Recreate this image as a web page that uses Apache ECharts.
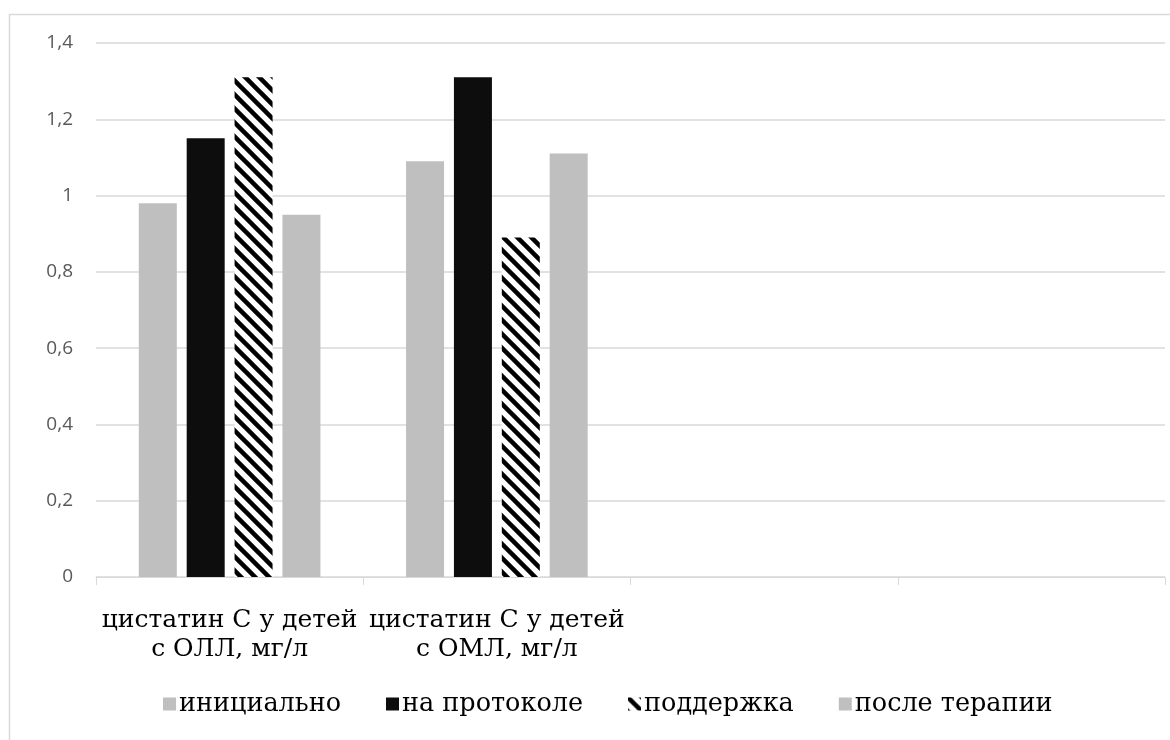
<!DOCTYPE html>
<html>
<head>
<meta charset="utf-8">
<script src="https://cdn.jsdelivr.net/npm/echarts@6/dist/echarts.min.js"></script>
<style>
  html, body { margin: 0; padding: 0; background: #ffffff; }
  #chart { width: 1170px; height: 740px; }
</style>
</head>
<body>
<div id="chart"></div>
<script>
// Categories (two empty slots keep the plot wide like the original layout)
const categories = ['цистатин С у детей\nс ОЛЛ, мг/л', 'цистатин С у детей\nс ОМЛ, мг/л', '', ''];

// Series names and values, mg/l
const seriesNames = ['инициально', 'на протоколе', 'поддержка', 'после терапии'];
const initialValues = [0.98, 1.09, null, null];
const protocolValues = [1.15, 1.31, null, null];
const supportValues = [1.31, 0.89, null, null];
const afterValues = [0.95, 1.11, null, null];

// Y axis ticks
const yMin = 0;
const yMax = 1.4;
const yStep = 0.2;

// Diagonal "\" hatch pattern for the maintenance series
function makeHatch() {
  const s = 14;
  const c = document.createElement('canvas');
  c.width = s; c.height = s;
  const ctx = c.getContext('2d');
  ctx.fillStyle = '#ffffff';
  ctx.fillRect(0, 0, s, s);
  ctx.strokeStyle = '#000000';
  ctx.lineWidth = 4.5;
  [-s, 0, s].forEach(function (o) {
    ctx.beginPath();
    ctx.moveTo(o - 2, -2);
    ctx.lineTo(o + s + 2, s + 2);
    ctx.stroke();
  });
  return c;
}

const chart = echarts.init(document.getElementById('chart'), null, { renderer: 'canvas' });

const barCommon = { type: 'bar', barWidth: 38, barGap: '26%' };

chart.setOption({
  animation: false,
  backgroundColor: '#ffffff',
  graphic: [{
    type: 'rect',
    shape: { x: 9.5, y: 14.5, width: 1300, height: 900 },
    style: { fill: null, stroke: '#d9d9d9', lineWidth: 1.5 },
    silent: true
  }],
  grid: { left: 96, right: 5, top: 43, bottom: 163, containLabel: false },
  legend: {
    bottom: 18,
    left: 158,
    itemWidth: 13,
    itemHeight: 13,
    itemGap: 45,
    icon: 'rect',
    textStyle: { fontFamily: 'DejaVu Serif', fontSize: 25.5, color: '#000000', padding: [0, 0, 0, -2] },
    data: seriesNames
  },
  xAxis: {
    type: 'category',
    data: categories,
    axisLine: { lineStyle: { color: '#d9d9d9', width: 1 } },
    axisTick: { show: true, length: 8, lineStyle: { color: '#d9d9d9' } },
    axisLabel: {
      interval: 0,
      margin: 29,
      fontFamily: 'DejaVu Serif',
      fontSize: 25,
      lineHeight: 29,
      color: '#000000',
      align: 'center'
    },
    splitLine: { show: false }
  },
  yAxis: {
    type: 'value',
    min: yMin,
    max: yMax,
    interval: yStep,
    axisLine: { show: false },
    axisTick: { show: false },
    axisLabel: {
      margin: 23,
      fontFamily: 'Open Sans',
      fontSize: 19,
      color: '#595959',
      formatter: function (v) { return String(Math.round(v * 10) / 10).replace('.', ','); }
    },
    splitLine: { lineStyle: { color: '#d9d9d9', width: 1.5 } }
  },
  series: [
    Object.assign({}, barCommon, { name: seriesNames[0], data: initialValues, itemStyle: { color: '#bfbfbf' } }),
    Object.assign({}, barCommon, { name: seriesNames[1], data: protocolValues, itemStyle: { color: '#0d0d0d' } }),
    Object.assign({}, barCommon, { name: seriesNames[2], data: supportValues, itemStyle: { color: { image: makeHatch(), repeat: 'repeat' } } }),
    Object.assign({}, barCommon, { name: seriesNames[3], data: afterValues, itemStyle: { color: '#bfbfbf' } })
  ]
});
</script>
</body>
</html>
